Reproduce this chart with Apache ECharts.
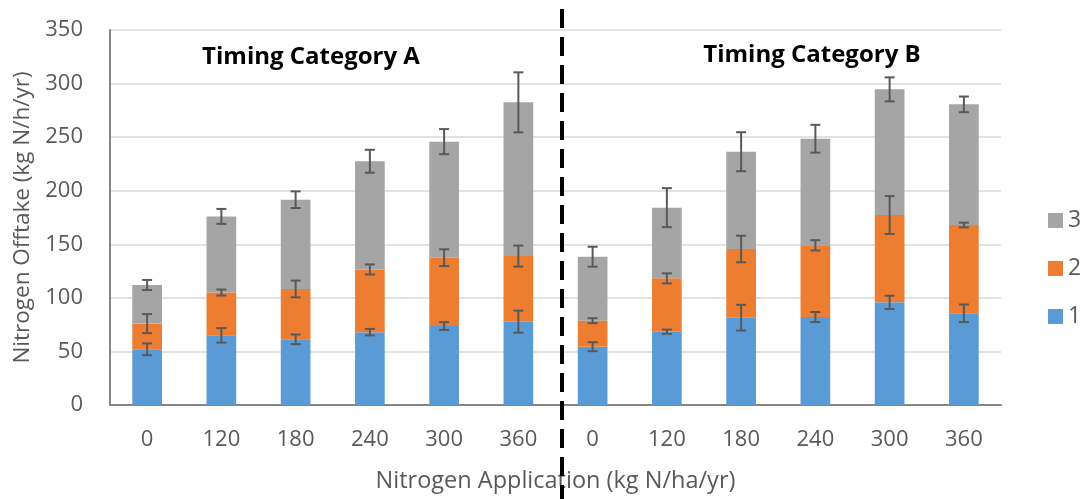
<!DOCTYPE html>
<html>
<head>
<meta charset="utf-8">
<script src="https://cdn.jsdelivr.net/npm/echarts@6/dist/echarts.min.js"></script>
<style>html,body{margin:0;padding:0;background:#fff;}#c{width:1081px;height:499px;}</style>
</head>
<body>
<div id="c"></div>
<script>
// Categories (two timing groups, A then B)
const categories = ['0','120','180','240','300','360','0','120','180','240','300','360'];
// Segment heights (stacked)
const series1 = [52, 65, 61.3, 68, 73.7, 77.8, 54.4, 68.4, 81.5, 82.1, 95.8, 85.6];
const series2 = [24, 40, 47, 58.5, 63.8, 61.2, 24.3, 49.8, 64.1, 66.9, 81.5, 82.4];
const series3 = [36, 71, 83.3, 101, 108.3, 143.5, 59.7, 66, 90.8, 99.5, 117.3, 112.6];
// Error bar half-widths at the top of each segment
const err1 = [5.5, 6.8, 4.5, 3, 3.6, 10.3, 4.2, 2, 12, 4.7, 6.2, 8.2];
const err2 = [8.9, 2.8, 7.8, 4.7, 7.8, 9.8, 2.3, 4.7, 12.4, 4.8, 17.7, 2.2];
const err3 = [4.7, 7, 7.8, 10.7, 11.7, 28, 9.3, 18.2, 18.2, 13, 11.2, 7.3];
const groupTitles = ['Timing Category A', 'Timing Category B'];
const yTicks = {min: 0, max: 350, interval: 50};

const segs = [series1, series2, series3];
const errs = [err1, err2, err3];
const errData = [];
categories.forEach((c, i) => {
  let cum = 0;
  for (let s = 0; s < 3; s++) {
    cum += segs[s][i];
    errData.push([i, cum, errs[s][i]]);
  }
});

const FONT = 'Open Sans';
const TXT = '#595959';
const chart = echarts.init(document.getElementById('c'), null, {renderer: 'canvas'});
chart.setOption({
  animation: false,
  textStyle: {fontFamily: FONT},
  grid: {left: 110, right: 80, top: 30, bottom: 94, containLabel: false},
  legend: {
    data: ['3', '2', '1'],
    orient: 'vertical',
    left: 1043, top: 204,
    itemWidth: 15, itemHeight: 15, itemGap: 25,
    icon: 'rect',
    textStyle: {fontFamily: FONT, fontSize: 23, color: TXT, lineHeight: 23, padding: [0, 0, 0, 0]},
    selectedMode: false
  },
  xAxis: {
    type: 'category',
    data: categories,
    axisLine: {lineStyle: {color: '#868686', width: 2}},
    axisTick: {show: false},
    axisLabel: {fontFamily: FONT, fontSize: 22, color: TXT, margin: 24},
    name: 'Nitrogen Application (kg N/ha/yr)',
    nameLocation: 'middle',
    nameGap: 64,
    nameTextStyle: {fontFamily: FONT, fontSize: 23.5, color: TXT}
  },
  yAxis: {
    type: 'value',
    min: yTicks.min, max: yTicks.max, interval: yTicks.interval,
    axisLine: {show: true, lineStyle: {color: '#868686', width: 2}},
    axisTick: {show: false},
    splitLine: {lineStyle: {color: '#d9d9d9', width: 1.5}},
    axisLabel: {fontFamily: FONT, fontSize: 22, color: TXT, margin: 27},
    name: 'Nitrogen Offtake (kg N/h/yr)',
    nameLocation: 'middle',
    nameGap: 75,
    nameTextStyle: {fontFamily: FONT, fontSize: 22.5, color: TXT}
  },
  series: [
    {name: '1', type: 'bar', stack: 't', barWidth: '40%', data: series1, itemStyle: {color: '#5B9BD5'}},
    {name: '2', type: 'bar', stack: 't', barWidth: '40%', data: series2, itemStyle: {color: '#ED7D31'}},
    {name: '3', type: 'bar', stack: 't', barWidth: '40%', data: series3, itemStyle: {color: '#A5A5A5'}},
    {
      name: 'err', type: 'custom', data: errData, z: 10,
      encode: {x: 0, y: [1]},
      renderItem: function (params, api) {
        const x = api.value(0), y = api.value(1), e = api.value(2);
        const hi = api.coord([x, y + e]);
        const lo = api.coord([x, y - e]);
        const hw = 5;
        const st = {stroke: '#595959', lineWidth: 2};
        return {
          type: 'group',
          children: [
            {type: 'line', shape: {x1: hi[0], y1: hi[1], x2: lo[0], y2: lo[1]}, style: st},
            {type: 'line', shape: {x1: hi[0] - hw, y1: hi[1], x2: hi[0] + hw, y2: hi[1]}, style: st},
            {type: 'line', shape: {x1: lo[0] - hw, y1: lo[1], x2: lo[0] + hw, y2: lo[1]}, style: st}
          ]
        };
      }
    }
  ],
  graphic: [
    {type: 'line', shape: {x1: 562, y1: 9, x2: 562, y2: 499}, style: {stroke: '#000', lineWidth: 4, lineDash: [19, 9]}, z: 20},
    {type: 'text', x: 311, y: 57, style: {text: groupTitles[0], font: 'bold 24px "Open Sans"', fill: '#000', align: 'center', verticalAlign: 'middle'}, z: 20},
    {type: 'text', x: 812, y: 55, style: {text: groupTitles[1], font: 'bold 24px "Open Sans"', fill: '#000', align: 'center', verticalAlign: 'middle'}, z: 20}
  ]
});
</script>
</body>
</html>
